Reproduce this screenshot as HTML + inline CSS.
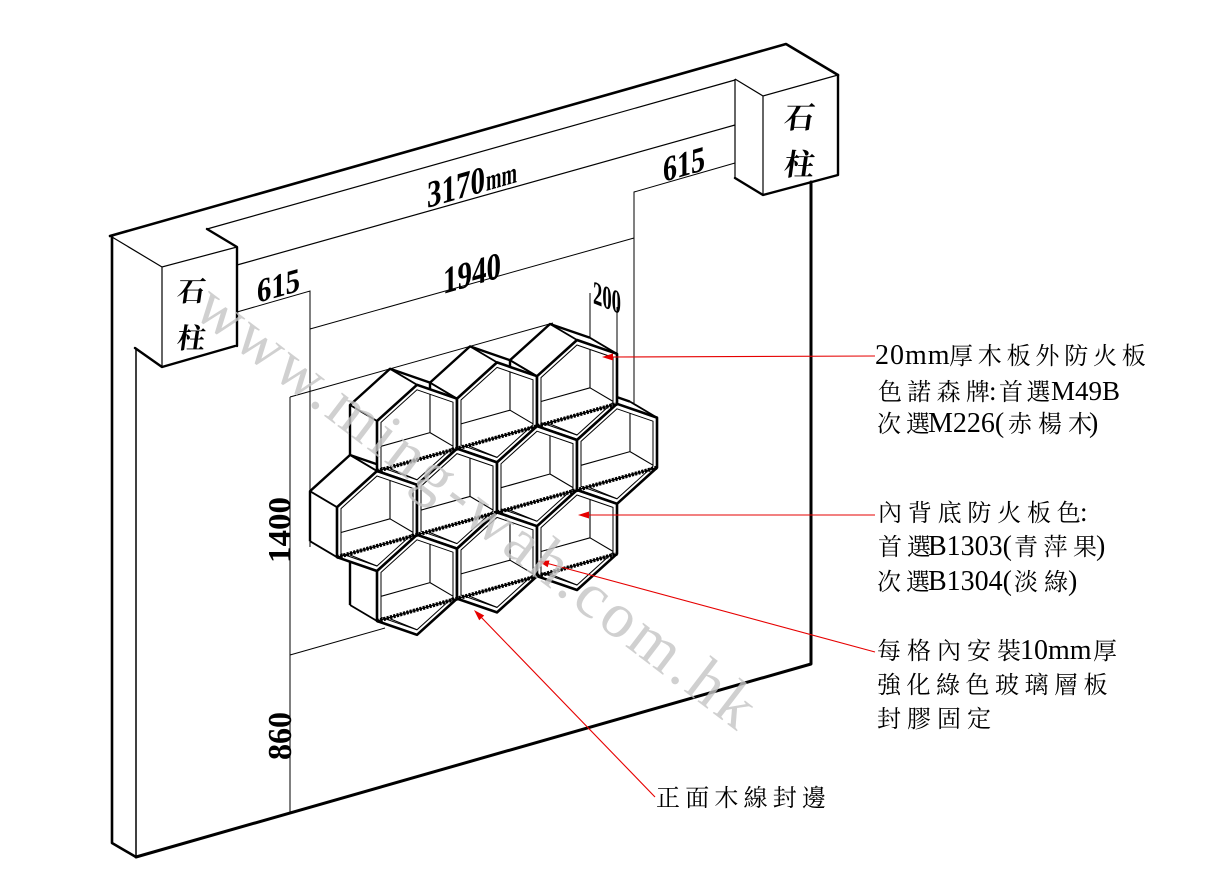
<!DOCTYPE html>
<html>
<head>
<meta charset="utf-8">
<style>
html,body{margin:0;padding:0;background:#fff;overflow:hidden;}
svg{display:block;}
</style>
</head>
<body>
<svg xmlns="http://www.w3.org/2000/svg" xmlns:xlink="http://www.w3.org/1999/xlink" width="1223" height="890" viewBox="0 0 1223 890">
<rect width="1223" height="890" fill="#fff"/>
<defs>
  <g id="ext" fill="none" stroke="#000">
    <polyline points="-67,20.2 -67,-29.8 -27,-66 13,-52.2" stroke-width="2.4" stroke-linejoin="round"/>
    <path d="M-40,36.2 L-67,20.2 M-40,-13.8 L-67,-29.8 M0,-50 L-27,-66 M40,-36.2 L13,-52.2" stroke-width="1.8"/>
  </g>
  <g id="fr">
    <polygon points="0,-50 40,-36.2 40,13.8 0,50 -40,36.2 -40,-13.8" fill="#fff"/>
    <path d="M13,-40.5 L13,-2.2 L-36,11.5 M13,-2.2 L36,11.4 M0,45 L-27,34" stroke="#000" stroke-width="1.1" fill="none"/>
    <polygon points="0,-50 40,-36.2 40,13.8 0,50 -40,36.2 -40,-13.8" fill="none" stroke="#000" stroke-width="2.6" stroke-linejoin="round"/>
    <polygon points="0,-45 36,-32.6 36,12.4 0,45 -36,32.6 -36,-12.4" fill="none" stroke="#000" stroke-width="1"/>
  </g>
</defs>

<!-- wall: thick outlines -->
<g fill="none" stroke="#000" stroke-linecap="round" stroke-linejoin="round">
  <path d="M110,236 L786,44 L838,75" stroke-width="2.6"/>
  <path d="M112,236 L112,843 L136,857" stroke-width="2.6"/>
  <path d="M136,857 L811,664 L811,182" stroke-width="3"/>
  <path d="M207,229 L237,247 L237,346 M135,348 L162,367 L235,346" stroke-width="2.4"/>
  <path d="M838,75 L838,175 L763,195 L735,178" stroke-width="2.4"/>
</g>
<!-- wall: thin lines -->
<g fill="none" stroke="#000" stroke-width="1.2">
  <path d="M112,237 L162,267 L237,247 M162,267 L162,367"/>
  <path d="M207,229 L735,80"/>
  <path d="M237,265 L735,125"/>
  <path d="M735,79 L763,96 L838,75 M763,96 L763,195 M735,79 L735,178"/>
  <path d="M136,348 L136,857" stroke-width="1.5"/>
</g>
<!-- dimension lines -->
<g fill="none" stroke="#000" stroke-width="1">
  <path d="M237,312 L310,291 L310,547"/>
  <path d="M310,329 L634,238"/>
  <path d="M634,404 L634,192 L735,163"/>
  <path d="M590,293 L590,338 M617,307 L617,354"/>
  <path d="M290,397 L290,813"/>
  <path d="M290,397 L553,323"/>
  <path d="M290,655 L385,628"/>
</g>

<!-- honeycomb exterior -->
<use href="#ext" xlink:href="#ext" transform="translate(417,434.8)"/>
<use href="#ext" xlink:href="#ext" transform="translate(497,412.4)"/>
<use href="#ext" xlink:href="#ext" transform="translate(577,390)"/>
<use href="#ext" xlink:href="#ext" transform="translate(377,521)"/>
<use href="#ext" xlink:href="#ext" transform="translate(457,498.6)"/>
<use href="#ext" xlink:href="#ext" transform="translate(537,476.2)"/>
<use href="#ext" xlink:href="#ext" transform="translate(617,453.8)"/>
<use href="#ext" xlink:href="#ext" transform="translate(417,584.8)"/>
<use href="#ext" xlink:href="#ext" transform="translate(497,562.4)"/>
<use href="#ext" xlink:href="#ext" transform="translate(577,540)"/>

<!-- honeycomb fronts -->
<use href="#fr" xlink:href="#fr" transform="translate(417,434.8)"/>
<use href="#fr" xlink:href="#fr" transform="translate(497,412.4)"/>
<use href="#fr" xlink:href="#fr" transform="translate(577,390)"/>
<use href="#fr" xlink:href="#fr" transform="translate(377,521)"/>
<use href="#fr" xlink:href="#fr" transform="translate(457,498.6)"/>
<use href="#fr" xlink:href="#fr" transform="translate(537,476.2)"/>
<use href="#fr" xlink:href="#fr" transform="translate(617,453.8)"/>
<use href="#fr" xlink:href="#fr" transform="translate(417,584.8)"/>
<use href="#fr" xlink:href="#fr" transform="translate(497,562.4)"/>
<use href="#fr" xlink:href="#fr" transform="translate(577,540)"/>

<!-- glass shelves -->
<g fill="none" stroke="#000">
  <path d="M377,471 L617,403.8 M337,557.2 L657,467.6 M377,621 L617,553.8" stroke-width="4" stroke-dasharray="2.2 1.2"/>
  <path d="M377,471 L617,403.8 M337,557.2 L657,467.6 M377,621 L617,553.8" stroke-width="1.3"/>
</g>

<!-- pillar labels -->
<g font-family="'Liberation Serif','Noto Serif CJK SC',serif" fill="#000" font-weight="bold" text-anchor="middle">
  <text transform="translate(190,301) skewX(-8)" font-size="28">石</text>
  <text transform="translate(190,348) skewX(-8)" font-size="28">柱</text>
  <text transform="translate(798,128) skewX(-8)" font-size="30">石</text>
  <text transform="translate(798,175) skewX(-8)" font-size="30">柱</text>
</g>

<!-- dimension texts -->
<g font-family="'Liberation Serif',serif" font-weight="bold" fill="#000">
  <text transform="translate(257,303) skewY(-16)" font-size="34" textLength="43" lengthAdjust="spacingAndGlyphs">615</text>
  <text transform="translate(663,182) skewY(-16)" font-size="36" textLength="42" lengthAdjust="spacingAndGlyphs">615</text>
  <text transform="translate(427,208) skewY(-16)" font-size="38" textLength="58" lengthAdjust="spacingAndGlyphs">3170</text>
  <text transform="translate(486,191) skewY(-16)" font-size="30" textLength="31" lengthAdjust="spacingAndGlyphs">mm</text>
  <text transform="translate(443,294) skewY(-16)" font-size="38" textLength="58" lengthAdjust="spacingAndGlyphs">1940</text>
  <text transform="translate(593,303) skewY(22)" font-size="33" textLength="28" lengthAdjust="spacingAndGlyphs">200</text>
  <text transform="translate(290,563) rotate(-90)" font-size="32" textLength="66" lengthAdjust="spacingAndGlyphs">1400</text>
  <text transform="translate(291,760) rotate(-90)" font-size="34" textLength="48" lengthAdjust="spacingAndGlyphs">860</text>
</g>

<!-- red leaders -->
<g stroke="#e60000" stroke-width="1.1" fill="none">
  <path d="M875,356 L610,357"/>
  <path d="M875,515 L586,515"/>
  <path d="M875,652 L546,563"/>
  <path d="M655,797 L480,616"/>
</g>
<g fill="#e60000">
  <polygon points="602,357 613,353.5 613,360.5"/>
  <polygon points="578,515 589,511.5 589,518.5"/>
  <polygon points="538,561 547.7,567.3 549.5,560.5"/>
  <polygon points="474,610 479.2,620.3 484.2,615.5"/>
</g>

<!-- right labels -->
<g font-family="'Liberation Serif','Noto Serif CJK SC',serif" fill="#000" font-size="24">
  <text y="364"><tspan x="875" font-size="28" letter-spacing="1">20mm</tspan><tspan x="949" letter-spacing="4.8">厚木板外防火板</tspan></text>
  <text y="400"><tspan x="878" letter-spacing="5.3">色諾森牌</tspan><tspan x="989" font-size="27">:</tspan><tspan x="999" letter-spacing="3.5">首選</tspan><tspan x="1051" font-size="27">M49B</tspan></text>
  <text y="432"><tspan x="877" letter-spacing="5">次選</tspan><tspan x="928" font-size="28">M226(</tspan><tspan x="1008" letter-spacing="6">赤楊木</tspan><tspan x="1089" font-size="28">)</tspan></text>

  <text y="521"><tspan x="878" letter-spacing="5.8">內背底防火板色</tspan><tspan x="1080" font-size="27">:</tspan></text>
  <text y="555"><tspan x="878" letter-spacing="5">首選</tspan><tspan x="928" font-size="28">B1303(</tspan><tspan x="1014" letter-spacing="5.5">青萍果</tspan><tspan x="1096" font-size="28">)</tspan></text>
  <text y="590"><tspan x="877" letter-spacing="5">次選</tspan><tspan x="928" font-size="28">B1304(</tspan><tspan x="1014" letter-spacing="6">淡綠</tspan><tspan x="1068" font-size="28">)</tspan></text>

  <text y="659"><tspan x="877" letter-spacing="6">每格內安裝</tspan><tspan x="1020" font-size="28">10mm</tspan><tspan x="1093">厚</tspan></text>
  <text y="693"><tspan x="877" letter-spacing="5.5">強化綠色玻璃層板</tspan></text>
  <text y="727"><tspan x="877" letter-spacing="6">封膠固定</tspan></text>

  <text y="806"><tspan x="656" letter-spacing="5.2">正面木線封邊</tspan></text>
</g>

<!-- watermark -->
<text transform="translate(191,314) rotate(37.4)" font-family="'Liberation Serif',serif" font-size="64" fill="#c4c4c4" fill-opacity="0.8" textLength="687" lengthAdjust="spacing">www.ming-wah.com.hk</text>
</svg>
</body>
</html>
